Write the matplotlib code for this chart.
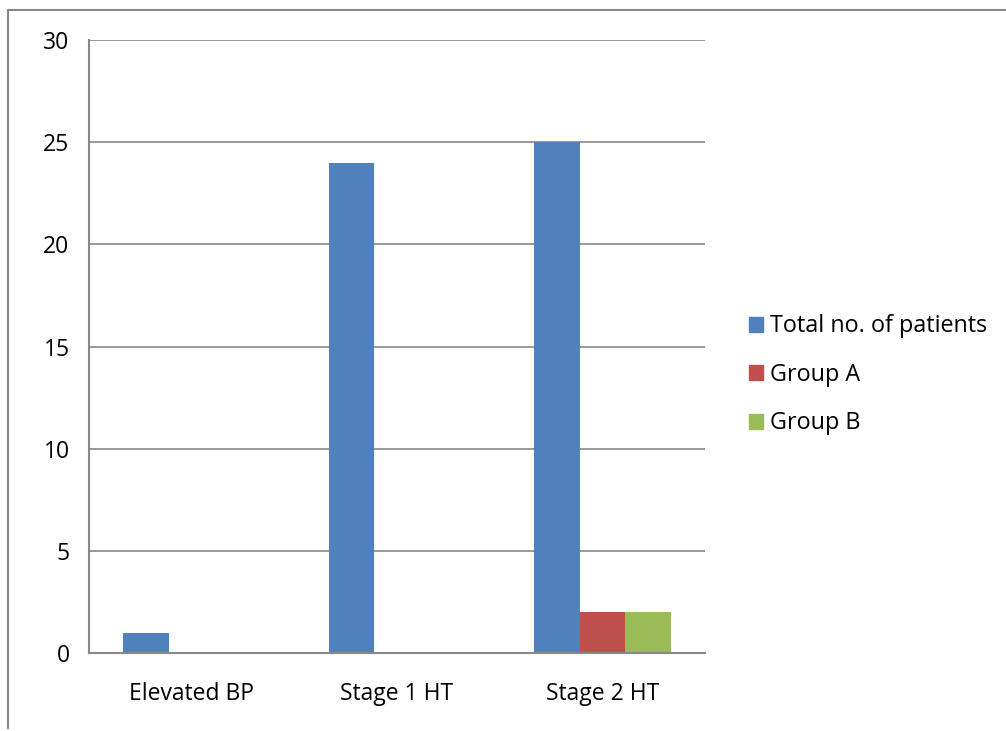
import numpy as np
import matplotlib.pyplot as plt
from matplotlib.lines import Line2D
from matplotlib.patches import Patch

plt.rcParams['font.family'] = ['Open Sans', 'DejaVu Sans']

categories = ['Elevated BP', 'Stage 1 HT', 'Stage 2 HT']
total_patients = [1, 24, 25]
group_a = [0, 0, 2]
group_b = [0, 0, 2]
series_names = ['Total no. of patients', 'Group A', 'Group B']
colors = ['#4f81bd', '#c0504d', '#9bbb59']

fig = plt.figure(figsize=(10.06, 7.31), dpi=100)
ax = fig.add_axes([89 / 1006, 1 - 653 / 731, 616 / 1006, 613 / 731])

x = np.arange(len(categories))
w = 0.222
for i, (vals, name, c) in enumerate(zip([total_patients, group_a, group_b], series_names, colors)):
    ax.bar(x + (i - 1) * w, vals, width=w, color=c, label=name, zorder=3)

ax.set_xlim(-0.5, 2.5)
ax.set_ylim(0, 30)
ax.set_yticks(range(0, 31, 5))
ax.set_xticks(x)
ax.set_xticklabels(categories)
ax.tick_params(length=0, labelsize=16.5, colors='black')
ax.tick_params(axis='x', pad=21)
ax.tick_params(axis='y', pad=14)
ax.yaxis.grid(True, color='#888888', linewidth=1.2, zorder=0)
for s in ['top', 'right']:
    ax.spines[s].set_visible(False)
for s in ['left', 'bottom']:
    ax.spines[s].set_color('#888888')
    ax.spines[s].set_linewidth(1.5)
    ax.spines[s].set_zorder(4)

handles = [Patch(color=c) for c in colors]
fig.legend(handles, series_names, loc='center left', bbox_to_anchor=(737 / 1006, 1 - 375 / 731),
           frameon=False, fontsize=16.8, handlelength=0.62, handleheight=0.62,
           handletextpad=0.3, labelspacing=1.05, borderpad=0)

# outer chart border
fig.add_artist(Line2D([8 / 1006, 8 / 1006], [1 - 10 / 731, 1 - 728 / 731], color='#888888', lw=1.5))
fig.add_artist(Line2D([8 / 1006, 1.0], [1 - 10 / 731, 1 - 10 / 731], color='#888888', lw=1.5))

fig.savefig('out.png', dpi=100)
